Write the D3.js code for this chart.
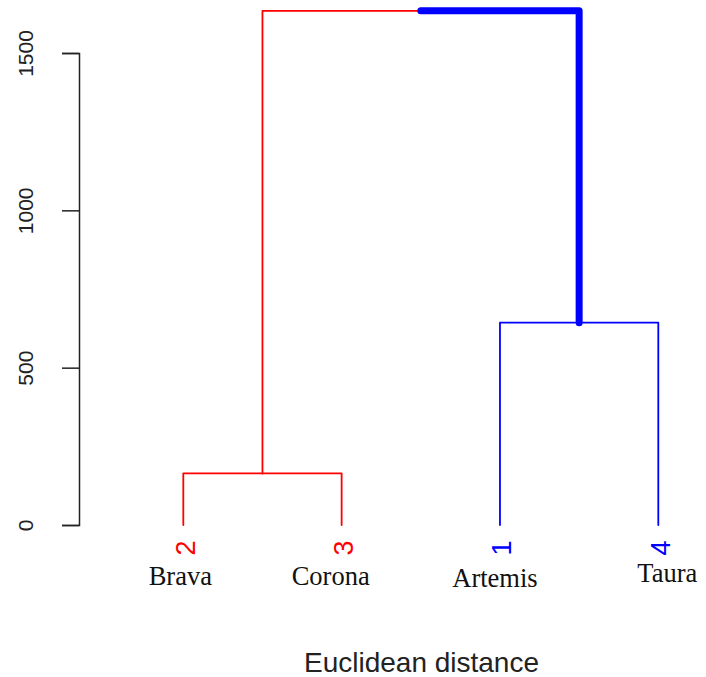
<!DOCTYPE html>
<html>
<head>
<meta charset="utf-8">
<script src="https://cdn.jsdelivr.net/npm/d3@7"></script>
<style>
  body { margin: 0; background: #fff; }
  svg { display: block; }
</style>
</head>
<body>
<div id="chart"></div>
<script>
// leaves, left to right as drawn
var leafIds = ["2", "3", "1", "4"],
    leafNames = ["Brava", "Corona", "Artemis", "Taura"],
    leafColors = ["#ff0000", "#ff0000", "#0000ff", "#0000ff"];

// merge heights: red pair, blue pair, root
var mergeHeights = [164, 643, 1634];
var yTicks = [0, 500, 1000, 1500];
var xLabel = "Euclidean distance";

// hand placed name labels (nudges from the leaf, in px)
var nameDx = [-3, -11, -5, 9],
    nameDy = [0, 0, 1.5, -3.5];

var width = 706,
    height = 677;

var leaves = leafIds.map(function(id, i) {
    return {id: id, name: leafNames[i], color: leafColors[i], h: 0, idx: i};
});
var treeData = {
    h: mergeHeights[2],
    children: [
        {h: mergeHeights[0], color: leafColors[0], children: [leaves[0], leaves[1]]},
        {h: mergeHeights[1], color: leafColors[2], bold: true, children: [leaves[2], leaves[3]]}
    ]
};

var x = d3.scalePoint().domain(leafIds).range([183.3, 658.3]);
var y = d3.scaleLinear().domain([0, 1500]).range([525, 53]);

var root = d3.hierarchy(treeData);
// leaf x from scale, inner nodes at the mean of their children
root.eachAfter(function(n) {
    n.px = n.children ? d3.mean(n.children, function(c) { return c.px; }) : x(n.data.id);
});

var svg = d3.select("#chart").append("svg")
    .attr("width", width)
    .attr("height", height);

svg.append("rect").attr("width", width).attr("height", height).attr("fill", "#fff");

// y axis
var yAxis = svg.append("g")
    .attr("transform", "translate(79,0)")
    .call(d3.axisLeft(y).tickValues(yTicks).tickSize(17).tickFormat(d3.format("d")));
yAxis.select(".domain").attr("stroke", "#222").attr("stroke-width", 1.5);
yAxis.selectAll(".tick line").attr("stroke", "#222").attr("stroke-width", 1.5);
yAxis.selectAll(".tick text")
    .attr("transform", "rotate(-90)")
    .attr("x", 0)
    .attr("y", -46)
    .attr("dy", 0)
    .attr("text-anchor", "middle")
    .attr("fill", "#222")
    .style("font-family", "'Liberation Sans', Arial, sans-serif")
    .style("font-size", "21px");

// branches: vertical at the child, then across to the parent
var links = root.links();
svg.append("g")
    .attr("fill", "none")
    .attr("stroke-linecap", "round")
    .attr("stroke-linejoin", "round")
    .selectAll("path")
    .data(links)
    .enter()
    .append("path")
    .attr("d", function(l) {
        return "M" + l.target.px + "," + y(l.target.data.h) +
               "V" + y(l.source.data.h) +
               "H" + l.source.px;
    })
    .attr("stroke", function(l) { return l.target.data.color; })
    .attr("stroke-width", function(l) { return l.target.data.bold ? 7 : 1.8; });

// leaf numbers
var leafNodes = root.leaves();
svg.append("g").selectAll("text")
    .data(leafNodes)
    .enter()
    .append("text")
    .attr("transform", function(d) {
        return "translate(" + (d.px + 1.5) + "," + (y(0) + 15.5) + ") rotate(-90)";
    })
    .attr("text-anchor", "end")
    .attr("dy", "0.36em")
    .attr("fill", function(d) { return d.data.color; })
    .style("font-family", "'Liberation Sans', Arial, sans-serif")
    .style("font-size", "27px")
    .text(function(d) { return d.data.id; });

// names
svg.append("g").selectAll("text")
    .data(leafNodes)
    .enter()
    .append("text")
    .attr("x", function(d) { return d.px + nameDx[d.data.idx]; })
    .attr("y", function(d) { return 585 + nameDy[d.data.idx]; })
    .attr("text-anchor", "middle")
    .attr("fill", "#111")
    .style("font-family", "'Liberation Serif', 'Times New Roman', serif")
    .style("font-size", "26.5px")
    .text(function(d) { return d.data.name; });

// x label
svg.append("text")
    .attr("x", 421.5)
    .attr("y", 672)
    .attr("text-anchor", "middle")
    .attr("fill", "#222")
    .style("font-family", "'Liberation Sans', Arial, sans-serif")
    .style("font-size", "28px")
    .text(xLabel);
</script>
</body>
</html>
